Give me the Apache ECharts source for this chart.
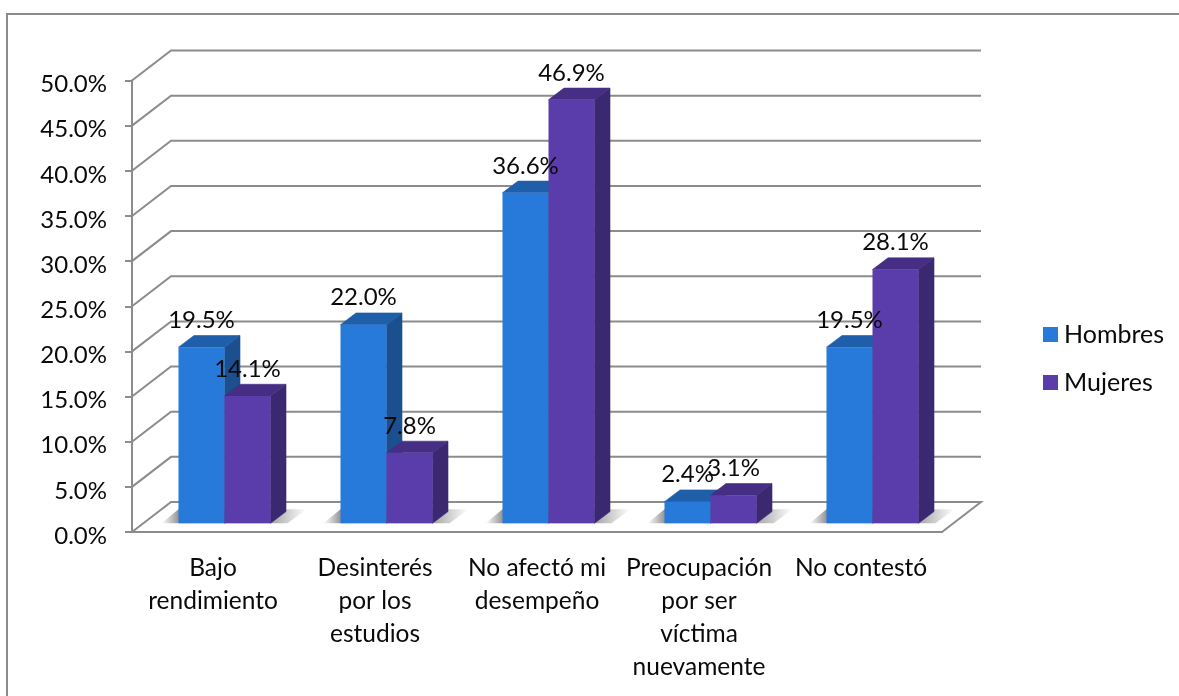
<!DOCTYPE html>
<html>
<head>
<meta charset="utf-8">
<style>html,body{margin:0;padding:0;background:#fff}#c{width:1179px;height:696px}</style>
<script src="https://cdn.jsdelivr.net/npm/echarts@6/dist/echarts.min.js"></script>
</head>
<body>
<div id="c"></div>
<script>
const categories = ['Bajo\nrendimiento','Desinterés\npor los\nestudios','No afectó mi\ndesempeño','Preocupación\npor ser\nvíctima\nnuevamente','No contestó'];
const hombres = [19.5, 22.0, 36.6, 2.4, 19.5];
const mujeres = [14.1, 7.8, 46.9, 3.1, 28.1];
const yTicks = [0,5,10,15,20,25,30,35,40,45,50];

const FONT = 'Lato, Carlito, "Open Sans", sans-serif';
const GRID = '#8c8c8c';
const TEXT = '#0a0a0a';
const WALL_DX = 39, WALL_DY = 30;
const BAR_DX = 11.5, BAR_DY = 8.7;
const DEPTH_DX = 15.5, DEPTH_DY = 11.7;
const BAR_RATIO = 0.284;

const shade = {
  Hombres: {front:'#287ADA', top:'#1F5EA8', side:'#1B4F8F'},
  Mujeres: {front:'#5B3CAB', top:'#452E84', side:'#3A2870'}
};

function barGeom(api, seriesIdx) {
  const cat = api.value(0), v = api.value(1);
  const c = api.coord([cat, v]);
  const z = api.coord([cat, 0]);
  const w = api.size([1, 0])[0] * BAR_RATIO;
  const x0 = c[0] + BAR_DX + (seriesIdx === 0 ? -w : 0);
  return {x0, x1: x0 + w, yTop: c[1] - BAR_DY, yBase: z[1] - BAR_DY, w};
}
function poly(points, fill, stroke) {
  return {type:'polygon', shape:{points}, style:{fill, stroke: stroke || fill, lineWidth: 0.6}};
}
function renderBar(name, idx) {
  return function (params, api) {
    const g = barGeom(api, idx);
    const s = shade[name];
    const dx = DEPTH_DX, dy = DEPTH_DY;
    return {type:'group', children:[
      poly([[g.x1,g.yTop],[g.x1+dx,g.yTop-dy],[g.x1+dx,g.yBase-dy],[g.x1,g.yBase]], s.side),
      poly([[g.x0,g.yTop],[g.x0+dx,g.yTop-dy],[g.x1+dx,g.yTop-dy],[g.x1,g.yTop]], s.top),
      {type:'rect', shape:{x:g.x0,y:g.yTop,width:g.w,height:g.yBase-g.yTop}, style:{fill:s.front}}
    ]};
  };
}
function renderLabel(idx) {
  return function (params, api) {
    const g = barGeom(api, idx);
    return {type:'text', style:{
      x:(g.x0+g.x1)/2, y:g.yTop-27, text:api.value(1).toFixed(1)+'%',
      font:'24px '+FONT, fill:TEXT, align:'center', verticalAlign:'middle'
    }};
  };
}
function renderShadow(params, api) {
  const cat = api.value(0);
  const z = api.coord([cat, 0]);
  const w = api.size([1, 0])[0] * BAR_RATIO;
  const y = z[1] - BAR_DY, l = z[0] + BAR_DX - w, r = z[0] + BAR_DX + w;
  const pts = [[l-17,y],[l,y-14],[r+36,y-14],[r+17,y]];
  return {type:'polygon', shape:{points:pts}, style:{
    fill:{type:'linear',x:0,y:0,x2:1,y2:0,colorStops:[
      {offset:0,color:'rgba(120,120,120,0)'},
      {offset:0.12,color:'rgba(120,120,120,0.8)'},
      {offset:0.74,color:'rgba(120,120,120,0.7)'},
      {offset:1,color:'rgba(120,120,120,0)'}]}
  }};
}
function renderWall(params, api) {
  const v = api.value(1);
  const half = api.size([1,0])[0] / 2;
  const n = categories.length;
  const a = api.coord([0, v]), b = api.coord([n-1, v]);
  const xl = a[0]-half, xr = b[0]+half, y = a[1];
  const style = {stroke:GRID, lineWidth:2, fill:null};
  if (v === 0) {
    return {type:'polyline', shape:{points:[[xl,y],[xl+WALL_DX,y-WALL_DY],[xr+WALL_DX,y-WALL_DY],[xr,y]]}, style};
  }
  return {type:'polyline', shape:{points:[[xl,y],[xl+WALL_DX,y-WALL_DY],[xr+WALL_DX,y-WALL_DY]]}, style};
}

const chart = echarts.init(document.getElementById('c'), null, {renderer:'canvas'});
chart.setOption({
  animation:false,
  backgroundColor:'#fff',
  grid:{left:132, top:80.5, width:810, height:451.5, containLabel:false},
  graphic:[{type:'polyline', z:100, shape:{points:[[7,696],[7,14],[1179,14]]}, style:{stroke:'#8c8c8c', lineWidth:2, fill:null}}],
  legend:{
    data:[{name:'Hombres',icon:'rect'},{name:'Mujeres',icon:'rect'}],
    orient:'vertical', left:1043, top:322, padding:0, itemWidth:15, itemHeight:15, itemGap:23,
    selectedMode:false,
    textStyle:{fontFamily:FONT, fontSize:25, color:TEXT, padding:[0,0,0,1]}
  },
  xAxis:{
    type:'category', data:categories,
    axisLine:{show:true, onZero:false, lineStyle:{color:GRID, width:2}},
    axisTick:{show:false},
    axisLabel:{interval:0, margin:20, fontFamily:FONT, fontSize:24.5, color:TEXT, lineHeight:33, verticalAlign:'top'}
  },
  yAxis:{
    type:'value', min:0, max:50, interval:5,
    splitLine:{show:false},
    axisLine:{show:true, lineStyle:{color:GRID, width:2}},
    axisTick:{show:true, length:7, lineStyle:{color:GRID, width:2}},
    axisLabel:{margin:25, color:TEXT,
      formatter:(v)=>'{t|'+v.toFixed(1)+'%}',
      rich:{t:{fontFamily:FONT, fontSize:24, color:TEXT, padding:[8,0,0,0]}}}
  },
  series:[
    {type:'custom', name:'wall', z:1, clip:false, silent:true, renderItem:renderWall, encode:{x:0,y:1},
      data:yTicks.map(v=>[0,v])},
    {type:'custom', name:'shadow', z:2, clip:false, silent:true, renderItem:renderShadow, encode:{x:0,y:1},
      data:categories.map((c,i)=>[i,0])},
    {type:'custom', name:'Hombres', z:3, clip:false, itemStyle:{color:shade.Hombres.front}, renderItem:renderBar('Hombres',0), encode:{x:0,y:1},
      data:hombres.map((v,i)=>[i,v])},
    {type:'custom', name:'Mujeres', z:4, clip:false, itemStyle:{color:shade.Mujeres.front}, renderItem:renderBar('Mujeres',1), encode:{x:0,y:1},
      data:mujeres.map((v,i)=>[i,v])},
    {type:'custom', name:'lblH', z:5, clip:false, silent:true, renderItem:renderLabel(0), encode:{x:0,y:1},
      data:hombres.map((v,i)=>[i,v])},
    {type:'custom', name:'lblM', z:5, clip:false, silent:true, renderItem:renderLabel(1), encode:{x:0,y:1},
      data:mujeres.map((v,i)=>[i,v])}
  ]
});
</script>
</body>
</html>
